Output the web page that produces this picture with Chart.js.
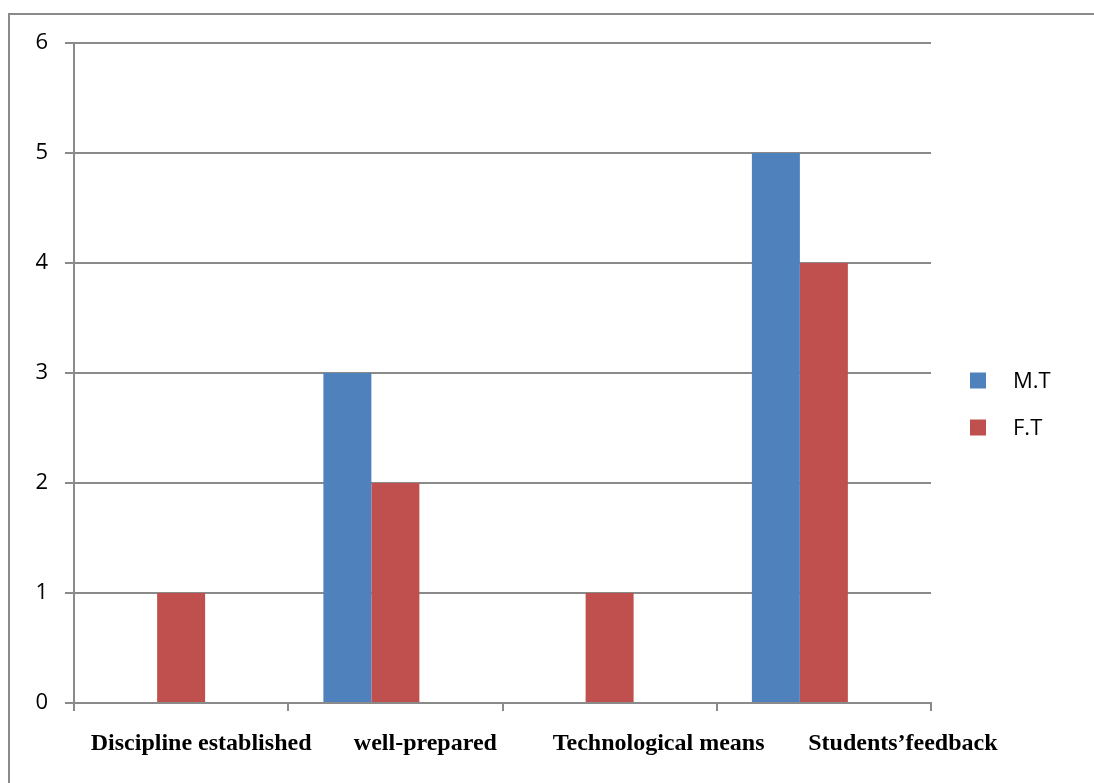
<!DOCTYPE html>
<html>
<head>
<meta charset="utf-8">
<title>M.T / F.T</title>
<script src="https://cdn.jsdelivr.net/npm/chart.js@4.4.1/dist/chart.umd.min.js"></script>
<style>
  html, body { margin: 0; padding: 0; background: #ffffff; }
  #wrap { width: 1094px; height: 783px; position: relative; }
</style>
</head>
<body>
<div id="wrap"><canvas id="chart" width="1094" height="783"></canvas></div>
<script>
// Categories and series values
const categories = ['Discipline established', 'well-prepared', 'Technological means', 'Students\u2019feedback'];
const seriesNames = ['M.T', 'F.T'];
const mtValues = [0, 3, 0, 5];
const ftValues = [1, 2, 1, 4];
// third, empty series slot kept in each group (as in the source workbook)
const emptyValues = [null, null, null, null];
const yTicks = [0, 1, 2, 3, 4, 5, 6];

// horizontal nudge of each category caption (px)
const captionNudge = [20, 30, 49, 79];

const BLUE = '#4F81BD';
const RED = '#C0504D';
const GRID = '#8a8a8a';

// Thin frame around the whole chart
const framePlugin = {
  id: 'frame',
  beforeDraw(chart) {
    const ctx = chart.ctx;
    ctx.save();
    ctx.fillStyle = '#ffffff';
    ctx.fillRect(0, 0, chart.width, chart.height);
    ctx.strokeStyle = '#8a8a8a';
    ctx.lineWidth = 2;
    ctx.strokeRect(9, 14, chart.width + 20, chart.height + 20);
    ctx.restore();
  }
};

// Bold serif category captions under the axis
const captions = {
  id: 'captions',
  afterDraw(chart) {
    const ctx = chart.ctx;
    const xs = chart.scales.x;
    ctx.save();
    ctx.font = 'bold 24px "Liberation Serif", "Times New Roman", serif';
    ctx.fillStyle = '#000000';
    ctx.textAlign = 'center';
    ctx.textBaseline = 'alphabetic';
    chart.data.labels.forEach((lab, i) => {
      ctx.fillText(lab, xs.getPixelForTick(i) + captionNudge[i], xs.top + 47);
    });
    ctx.restore();
  }
};

// Legend on the right
const sideLegend = {
  id: 'sideLegend',
  afterDraw(chart) {
    const ctx = chart.ctx;
    const area = chart.chartArea;
    const mid = area.top + (area.bottom - area.top) / 2 + 31;
    const x = area.right + 39;
    const gap = 47;
    const items = chart.data.datasets.filter(ds => ds.label);
    ctx.save();
    ctx.font = '22px "Open Sans"';
    ctx.textBaseline = 'middle';
    items.forEach((ds, i) => {
      const cy = mid + (i - (items.length - 1) / 2) * gap;
      ctx.fillStyle = ds.backgroundColor;
      ctx.fillRect(x, cy - 8, 16, 16);
      ctx.fillStyle = '#000000';
      ctx.fillText(ds.label, x + 43, cy + 1);
    });
    ctx.restore();
  }
};

new Chart(document.getElementById('chart'), {
  type: 'bar',
  data: {
    labels: categories,
    datasets: [
      { label: seriesNames[0], data: mtValues, backgroundColor: BLUE },
      { label: seriesNames[1], data: ftValues, backgroundColor: RED },
      { label: '', data: emptyValues, backgroundColor: 'rgba(0,0,0,0)' }
    ]
  },
  options: {
    responsive: false,
    animation: false,
    devicePixelRatio: 1,
    layout: { padding: { left: 0, top: 43, right: 163, bottom: 0 } },
    datasets: { bar: { categoryPercentage: 0.672, barPercentage: 1.0 } },
    plugins: {
      legend: { display: false },
      tooltip: { enabled: false }
    },
    scales: {
      x: {
        afterFit(scale) { scale.height = 80; },
        grid: {
          offset: true,
          drawOnChartArea: false,
          drawTicks: true,
          tickLength: 8,
          color: GRID,
          lineWidth: 2
        },
        border: { display: true, color: GRID, width: 2 },
        ticks: { display: false, autoSkip: false }
      },
      y: {
        min: yTicks[0],
        max: yTicks[yTicks.length - 1],
        afterFit(scale) { scale.width = 74; },
        afterBuildTicks(scale) { scale.ticks = yTicks.map(v => ({ value: v })); },
        grid: {
          color: GRID,
          lineWidth: 2,
          drawTicks: true,
          tickLength: 9
        },
        border: { display: true, color: GRID, width: 2 },
        ticks: {
          color: '#000000',
          font: { family: '"Open Sans", sans-serif', size: 22 },
          padding: 17,
          stepSize: 1
        }
      }
    }
  },
  plugins: [framePlugin, captions, sideLegend]
});
</script>
</body>
</html>
